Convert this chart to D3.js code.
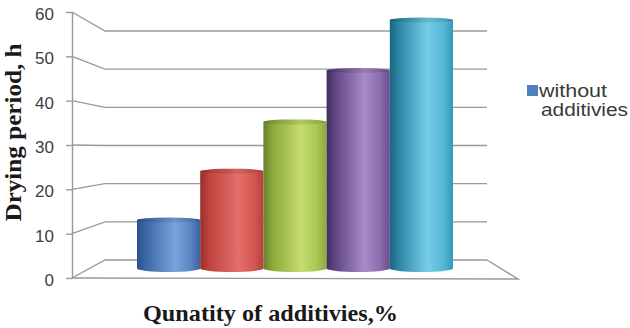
<!DOCTYPE html>
<html>
<head>
<meta charset="utf-8">
<script src="https://cdn.jsdelivr.net/npm/d3@7"></script>
<style>
  html, body { margin: 0; padding: 0; background: #ffffff; }
  svg { display: block; }
</style>
</head>
<body>
<svg id="chart" width="630" height="328"></svg>
<script>
// ---- data ----
const categories = ["1", "2", "3", "4", "5"];
const values = [11.7, 23.5, 35.4, 47.8, 60];
const yTicks = [0, 10, 20, 30, 40, 50, 60];
const seriesName = ["without", "additivies"];
const yTitle = "Drying period, h";
const xTitle = "Qunatity of additivies,%";

// colour ramps per bar: [edgeDark, dark, light, mid, rightEdge]
const barRamps = [
  ["#2b5087", "#3d69a8", "#7aa3da", "#5a85c2", "#3b64a0"],
  ["#9a2f2c", "#c0443f", "#e46f6a", "#d35753", "#b8403c"],
  ["#66802a", "#8eaa3c", "#c6dc70", "#a9c653", "#8ba83e"],
  ["#432e5f", "#634887", "#a78bc6", "#8a6cae", "#6a4e8e"],
  ["#1b6580", "#2d88a6", "#76cde8", "#56b7d6", "#3597b5"]
];
const legendColor = "#4f81bd";

// ---- geometry ----
const svg = d3.select("#chart");
const xFrontLeft = 72, xBackLeft = 105, xBackRight = 487, xFrontRight = 518;
const yFront = d3.scaleLinear().domain([0, 60]).range([278, 12]);
const yBack = d3.scaleLinear().domain([0, 60]).range([260, 31]);
const yMid = d3.scaleLinear().domain([0, 60]).range([268.5, 20]);
const x = d3.scaleBand().domain(categories).range([137, 453]).padding(0);

// ---- gradients ----
const defs = svg.append("defs");
barRamps.forEach((r, i) => {
  const g = defs.append("linearGradient").attr("id", "g" + i)
    .attr("x1", 0).attr("x2", 1).attr("y1", 0).attr("y2", 0);
  [[0, r[0]], [0.15, r[1]], [0.6, r[2]], [0.85, r[3]], [1, r[4]]].forEach(s =>
    g.append("stop").attr("offset", s[0]).attr("stop-color", s[1]));
});

const gridColor = "#999999";

// ---- walls / gridlines ----
const grid = svg.append("g").attr("fill", "none").attr("stroke", gridColor).attr("stroke-width", 1.4);
grid.selectAll("path.grid").data(yTicks).join("path").attr("class", "grid")
  .attr("d", t => `M${xFrontLeft},${yFront(t)}L${xBackLeft},${yBack(t)}L${xBackRight},${yBack(t)}`);
// floor edges
grid.append("path")
  .attr("d", `M${xFrontLeft},${yFront(0)}L${xFrontRight},${yFront(0) + 1}L${xBackRight},${yBack(0)}`);

// ---- cylinders ----
const rx = x.bandwidth() / 2;
const bars = svg.append("g").selectAll("g.bar").data(values).join("g").attr("class", "bar");
bars.append("rect")
  .attr("x", (d, i) => x(categories[i]))
  .attr("y", d => yMid(d))
  .attr("width", x.bandwidth())
  .attr("height", d => yMid(0) - yMid(d))
  .attr("fill", (d, i) => `url(#g${i})`);
bars.append("ellipse")
  .attr("cx", (d, i) => x(categories[i]) + rx)
  .attr("cy", yMid(0))
  .attr("rx", rx).attr("ry", 3.5)
  .attr("fill", (d, i) => `url(#g${i})`);
bars.append("ellipse")
  .attr("cx", (d, i) => x(categories[i]) + rx)
  .attr("cy", d => yMid(d))
  .attr("rx", rx).attr("ry", 2.5)
  .attr("fill", (d, i) => `url(#g${i})`);
bars.append("ellipse")
  .attr("cx", (d, i) => x(categories[i]) + rx)
  .attr("cy", d => yMid(d))
  .attr("rx", rx).attr("ry", 2.5)
  .attr("fill", "rgba(0,0,0,0.1)");

// ---- y axis ----
const yAxis = svg.append("g")
  .attr("transform", `translate(${xFrontLeft},0)`)
  .call(d3.axisLeft(yFront).tickValues(yTicks).tickSize(6).tickSizeOuter(0).tickPadding(12));
yAxis.select(".domain").attr("stroke", gridColor).attr("stroke-width", 1.4);
yAxis.selectAll(".tick line").attr("stroke", gridColor).attr("stroke-width", 1.4);
yAxis.selectAll(".tick text")
  .attr("font-family", "'Liberation Sans', Arial, sans-serif")
  .attr("font-size", 17).attr("fill", "#404040").attr("dy", "0.45em");

// ---- titles ----
svg.append("text")
  .attr("transform", "translate(21,132.5) rotate(-90)")
  .attr("text-anchor", "middle")
  .attr("font-family", "'Liberation Serif', 'Times New Roman', serif")
  .attr("font-weight", "bold").attr("font-size", 23).attr("fill", "#1a1a1a")
  .attr("textLength", 178).attr("lengthAdjust", "spacingAndGlyphs")
  .text(yTitle);
svg.append("text")
  .attr("x", 270.5).attr("y", 321)
  .attr("text-anchor", "middle")
  .attr("font-family", "'Liberation Serif', 'Times New Roman', serif")
  .attr("font-weight", "bold").attr("font-size", 24).attr("fill", "#1a1a1a")
  .attr("textLength", 255).attr("lengthAdjust", "spacingAndGlyphs")
  .text(xTitle);

// ---- legend ----
const legend = svg.append("g");
legend.append("rect").attr("x", 527).attr("y", 85).attr("width", 11).attr("height", 11).attr("fill", legendColor);
legend.selectAll("text").data(seriesName).join("text")
  .attr("x", (d, i) => i === 0 ? 539 : 541)
  .attr("y", (d, i) => 96.5 + i * 19.6)
  .attr("font-family", "'Liberation Sans', Arial, sans-serif")
  .attr("font-size", 17.5).attr("fill", "#3a3a3a")
  .attr("textLength", (d, i) => i === 0 ? 68 : 87).attr("lengthAdjust", "spacingAndGlyphs")
  .text(d => d);
</script>
</body>
</html>
